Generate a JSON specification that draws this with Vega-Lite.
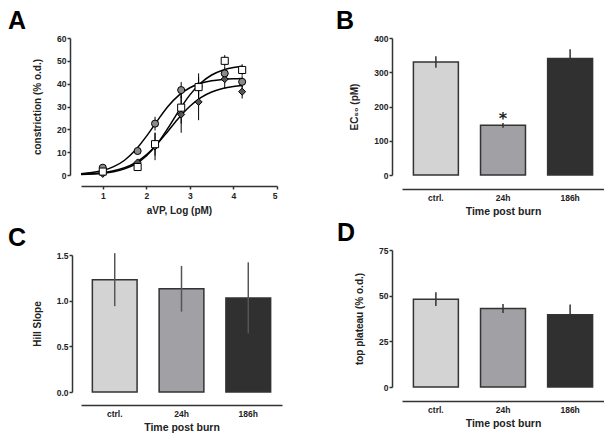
{
  "$schema": "https://vega.github.io/schema/vega-lite/v6.json",
  "background": "white",
  "padding": {"left": 8, "top": 9, "right": 0, "bottom": 0},
  "datasets": {
    "points": [
      {"series": "186h", "x": 1, "y": 0.5, "err": 0.5},
      {"series": "186h", "x": 1.8, "y": 5.5, "err": 1.5},
      {"series": "186h", "x": 2.2, "y": 12.5, "err": 6},
      {"series": "186h", "x": 2.8, "y": 26.5, "err": 8},
      {"series": "186h", "x": 3.2, "y": 32, "err": 8},
      {"series": "186h", "x": 3.8, "y": 42, "err": 4},
      {"series": "186h", "x": 4.2, "y": 36.5, "err": 3},
      {"series": "24h", "x": 1, "y": 3.2, "err": 1},
      {"series": "24h", "x": 1.8, "y": 10.5, "err": 1.5},
      {"series": "24h", "x": 2.2, "y": 22.5, "err": 3},
      {"series": "24h", "x": 2.8, "y": 37.2, "err": 3.5},
      {"series": "24h", "x": 3.2, "y": 38.8, "err": 4},
      {"series": "24h", "x": 3.8, "y": 44.5, "err": 3},
      {"series": "24h", "x": 4.2, "y": 40.8, "err": 2.5},
      {"series": "ctrl", "x": 1, "y": 1.5, "err": 1},
      {"series": "ctrl", "x": 1.8, "y": 3.5, "err": 1.5},
      {"series": "ctrl", "x": 2.2, "y": 13.5, "err": 5},
      {"series": "ctrl", "x": 2.8, "y": 29.5, "err": 7},
      {"series": "ctrl", "x": 3.2, "y": 38.5, "err": 6},
      {"series": "ctrl", "x": 3.8, "y": 50, "err": 2.5},
      {"series": "ctrl", "x": 4.2, "y": 46, "err": 2.5}
    ],
    "curves": [
      {"series": "24h", "x": 0.5, "y": 0.56},
      {"series": "24h", "x": 0.75, "y": 1.06},
      {"series": "24h", "x": 1.0, "y": 1.98},
      {"series": "24h", "x": 1.25, "y": 3.64},
      {"series": "24h", "x": 1.5, "y": 6.47},
      {"series": "24h", "x": 1.75, "y": 10.9},
      {"series": "24h", "x": 2.0, "y": 16.9},
      {"series": "24h", "x": 2.25, "y": 23.7},
      {"series": "24h", "x": 2.5, "y": 30.1},
      {"series": "24h", "x": 2.75, "y": 35.0},
      {"series": "24h", "x": 3.0, "y": 38.2},
      {"series": "24h", "x": 3.25, "y": 40.15},
      {"series": "24h", "x": 3.5, "y": 41.24},
      {"series": "24h", "x": 3.75, "y": 41.83},
      {"series": "24h", "x": 4.0, "y": 42.15},
      {"series": "24h", "x": 4.2, "y": 42.29},
      {"series": "ctrl", "x": 0.5, "y": 0.23},
      {"series": "ctrl", "x": 0.75, "y": 0.42},
      {"series": "ctrl", "x": 1.0, "y": 0.79},
      {"series": "ctrl", "x": 1.25, "y": 1.47},
      {"series": "ctrl", "x": 1.5, "y": 2.69},
      {"series": "ctrl", "x": 1.75, "y": 4.82},
      {"series": "ctrl", "x": 2.0, "y": 8.35},
      {"series": "ctrl", "x": 2.25, "y": 13.65},
      {"series": "ctrl", "x": 2.5, "y": 20.6},
      {"series": "ctrl", "x": 2.75, "y": 28.2},
      {"series": "ctrl", "x": 3.0, "y": 35.1},
      {"series": "ctrl", "x": 3.25, "y": 40.3},
      {"series": "ctrl", "x": 3.5, "y": 43.8},
      {"series": "ctrl", "x": 3.75, "y": 45.9},
      {"series": "ctrl", "x": 4.0, "y": 47.07},
      {"series": "ctrl", "x": 4.2, "y": 47.63},
      {"series": "186h", "x": 0.5, "y": 0.32},
      {"series": "186h", "x": 0.75, "y": 0.58},
      {"series": "186h", "x": 1.0, "y": 1.03},
      {"series": "186h", "x": 1.25, "y": 1.83},
      {"series": "186h", "x": 1.5, "y": 3.2},
      {"series": "186h", "x": 1.75, "y": 5.43},
      {"series": "186h", "x": 2.0, "y": 8.86},
      {"series": "186h", "x": 2.25, "y": 13.6},
      {"series": "186h", "x": 2.5, "y": 19.3},
      {"series": "186h", "x": 2.75, "y": 25.1},
      {"series": "186h", "x": 3.0, "y": 30.1},
      {"series": "186h", "x": 3.25, "y": 33.9},
      {"series": "186h", "x": 3.5, "y": 36.36},
      {"series": "186h", "x": 3.75, "y": 37.9},
      {"series": "186h", "x": 4.0, "y": 38.81},
      {"series": "186h", "x": 4.2, "y": 39.25}
    ],
    "ec50": [
      {"group": "ctrl.", "value": 330, "err": 17, "sig": ""},
      {"group": "24h", "value": 145, "err": 7, "sig": "*"},
      {"group": "186h", "value": 340, "err": 27, "sig": ""}
    ],
    "hill": [
      {"group": "ctrl.", "value": 1.23, "err": 0.29},
      {"group": "24h", "value": 1.13, "err": 0.25},
      {"group": "186h", "value": 1.03, "err": 0.39}
    ],
    "top": [
      {"group": "ctrl.", "value": 48.1, "err": 3.8},
      {"group": "24h", "value": 43, "err": 2.5},
      {"group": "186h", "value": 39.5, "err": 5.6}
    ]
  },
  "spacing": 54,
  "hconcat": [
    {
      "bounds": "flush",
      "spacing": 80,
      "vconcat": [
        {
          "width": 196,
          "height": 137,
          "title": {"text": "A", "anchor": "start", "frame": "group", "dx": -73, "offset": 0},
          "layer": [
            {
              "data": {"name": "curves"},
              "mark": {"type": "line", "color": "black", "strokeWidth": 1.5, "interpolate": "monotone"},
              "encoding": {
                "x": {"field": "x", "type": "quantitative", "title": "aVP, Log (pM)", "scale": {"domain": [0.5, 5], "nice": false},
                  "axis": {"values": [1, 2, 3, 4, 5], "offset": 11, "labelPadding": 2.5, "titlePadding": 5}},
                "y": {"field": "y", "type": "quantitative", "title": "constriction (% o.d.)", "scale": {"domain": [0, 60], "nice": false},
                  "axis": {"values": [0, 10, 20, 30, 40, 50, 60], "offset": 11, "labelOverlap": false}},
                "detail": {"field": "series"}
              }
            },
            {
              "data": {"name": "points"},
              "mark": {"type": "errorbar", "color": "black", "thickness": 1},
              "encoding": {
                "x": {"field": "x", "type": "quantitative", "title": "aVP, Log (pM)",
                  "axis": {"values": [1, 2, 3, 4, 5], "offset": 11, "labelPadding": 2.5, "titlePadding": 5}},
                "y": {"field": "y", "type": "quantitative", "title": "constriction (% o.d.)",
                  "axis": {"values": [0, 10, 20, 30, 40, 50, 60], "offset": 11, "labelOverlap": false}},
                "yError": {"field": "err"}
              }
            },
            {
              "data": {"name": "points"},
              "mark": {"type": "point", "filled": true, "stroke": "black", "strokeWidth": 1, "size": 50, "opacity": 1},
              "encoding": {
                "x": {"field": "x", "type": "quantitative", "title": "aVP, Log (pM)",
                  "axis": {"values": [1, 2, 3, 4, 5], "offset": 11, "labelPadding": 2.5, "titlePadding": 5}},
                "y": {"field": "y", "type": "quantitative", "title": "constriction (% o.d.)",
                  "axis": {"values": [0, 10, 20, 30, 40, 50, 60], "offset": 11, "labelOverlap": false}},
                "shape": {"field": "series", "scale": {"domain": ["ctrl", "24h", "186h"], "range": ["square", "circle", "diamond"]}, "legend": null},
                "fill": {"field": "series", "scale": {"domain": ["ctrl", "24h", "186h"], "range": ["#ffffff", "#8a8a8a", "#555555"]}, "legend": null}
              }
            }
          ]
        },
        {
          "width": 201,
          "height": 137,
          "title": {"text": "C", "anchor": "start", "frame": "group", "dx": -73, "offset": 0},
          "data": {"name": "hill"},
          "layer": [
            {
              "mark": {"type": "bar", "stroke": "#333333", "strokeWidth": 1.5},
              "encoding": {
                "x": {"field": "group", "type": "nominal", "sort": null, "title": "Time post burn", "scale": {"domain": ["ctrl.", "24h", "186h"], "paddingInner": 0.33, "paddingOuter": 0.17},
                  "axis": {"ticks": false, "tickSize": 0, "labelAngle": 0, "labelPadding": 4, "offset": 13, "titleFontSize": 10.5, "titlePadding": 5}},
                "y": {"field": "value", "type": "quantitative", "title": "Hill Slope", "scale": {"domain": [0, 1.5], "nice": false},
                  "axis": {"values": [0, 0.5, 1, 1.5], "format": ".1f", "offset": 9, "labelOverlap": false}},
                "color": {"field": "group", "scale": {"domain": ["ctrl.", "24h", "186h"], "range": ["#d3d3d3", "#a1a1a5", "#303030"]}, "legend": null}
              }
            },
            {
              "mark": {"type": "errorbar", "color": "#555555", "thickness": 1.5},
              "encoding": {
                "x": {"field": "group", "type": "nominal", "sort": null, "title": "Time post burn",
                  "axis": {"ticks": false, "tickSize": 0, "labelAngle": 0, "labelPadding": 4, "offset": 13, "titleFontSize": 10.5, "titlePadding": 5}},
                "y": {"field": "value", "type": "quantitative", "title": "Hill Slope",
                  "axis": {"values": [0, 0.5, 1, 1.5], "format": ".1f", "offset": 9, "labelOverlap": false}},
                "yError": {"field": "err"}
              }
            }
          ]
        }
      ]
    },
    {
      "bounds": "flush",
      "spacing": 75,
      "vconcat": [
        {
          "width": 202,
          "height": 137,
          "title": {"text": "B", "anchor": "start", "frame": "group", "dx": -66, "offset": 0},
          "data": {"name": "ec50"},
          "layer": [
            {
              "mark": {"type": "bar", "stroke": "#333333", "strokeWidth": 1.5},
              "encoding": {
                "x": {"field": "group", "type": "nominal", "sort": null, "title": "Time post burn", "scale": {"domain": ["ctrl.", "24h", "186h"], "paddingInner": 0.33, "paddingOuter": 0.17},
                  "axis": {"ticks": false, "tickSize": 0, "labelAngle": 0, "labelPadding": 4, "offset": 14, "titleFontSize": 10.5, "titlePadding": 5}},
                "y": {"field": "value", "type": "quantitative", "title": "EC₅₀ (pM)", "scale": {"domain": [0, 400], "nice": false},
                  "axis": {"values": [0, 100, 200, 300, 400], "offset": 10, "labelOverlap": false}},
                "color": {"field": "group", "scale": {"domain": ["ctrl.", "24h", "186h"], "range": ["#d3d3d3", "#a1a1a5", "#303030"]}, "legend": null}
              }
            },
            {
              "mark": {"type": "errorbar", "color": "#333333", "thickness": 1.5},
              "encoding": {
                "x": {"field": "group", "type": "nominal", "sort": null, "title": "Time post burn",
                  "axis": {"ticks": false, "tickSize": 0, "labelAngle": 0, "labelPadding": 4, "offset": 14, "titleFontSize": 10.5, "titlePadding": 5}},
                "y": {"field": "value", "type": "quantitative", "title": "EC₅₀ (pM)",
                  "axis": {"values": [0, 100, 200, 300, 400], "offset": 10, "labelOverlap": false}},
                "yError": {"field": "err"}
              }
            },
            {
              "transform": [{"filter": "datum.sig == '*'"}],
              "mark": {"type": "text", "font": "DejaVu Sans", "fontWeight": "bold", "fontSize": 16, "baseline": "alphabetic", "dy": -1, "color": "#222222"},
              "encoding": {
                "x": {"field": "group", "type": "nominal", "sort": null, "title": "Time post burn",
                  "axis": {"ticks": false, "tickSize": 0, "labelAngle": 0, "labelPadding": 4, "offset": 14, "titleFontSize": 10.5, "titlePadding": 5}},
                "y": {"field": "value", "type": "quantitative", "title": "EC₅₀ (pM)",
                  "axis": {"values": [0, 100, 200, 300, 400], "offset": 10, "labelOverlap": false}},
                "text": {"field": "sig"}
              }
            }
          ]
        },
        {
          "width": 202,
          "height": 137,
          "title": {"text": "D", "anchor": "start", "frame": "group", "dx": -65, "offset": 0},
          "data": {"name": "top"},
          "layer": [
            {
              "mark": {"type": "bar", "stroke": "#333333", "strokeWidth": 1.5},
              "encoding": {
                "x": {"field": "group", "type": "nominal", "sort": null, "title": "Time post burn", "scale": {"domain": ["ctrl.", "24h", "186h"], "paddingInner": 0.33, "paddingOuter": 0.17},
                  "axis": {"ticks": false, "tickSize": 0, "labelAngle": 0, "labelPadding": 4, "offset": 14, "titleFontSize": 10.5, "titlePadding": 5}},
                "y": {"field": "value", "type": "quantitative", "title": "top plateau (% o.d.)", "scale": {"domain": [0, 75], "nice": false},
                  "axis": {"values": [0, 25, 50, 75], "offset": 10, "labelOverlap": false}},
                "color": {"field": "group", "scale": {"domain": ["ctrl.", "24h", "186h"], "range": ["#d3d3d3", "#a1a1a5", "#303030"]}, "legend": null}
              }
            },
            {
              "mark": {"type": "errorbar", "color": "#333333", "thickness": 1.5},
              "encoding": {
                "x": {"field": "group", "type": "nominal", "sort": null, "title": "Time post burn",
                  "axis": {"ticks": false, "tickSize": 0, "labelAngle": 0, "labelPadding": 4, "offset": 14, "titleFontSize": 10.5, "titlePadding": 5}},
                "y": {"field": "value", "type": "quantitative", "title": "top plateau (% o.d.)",
                  "axis": {"values": [0, 25, 50, 75], "offset": 10, "labelOverlap": false}},
                "yError": {"field": "err"}
              }
            }
          ]
        }
      ]
    }
  ],
  "config": {
    "view": {"stroke": null},
    "axis": {
      "grid": false,
      "domainColor": "#333333",
      "domainWidth": 1.5,
      "tickColor": "#333333",
      "tickWidth": 1.5,
      "tickSize": 3,
      "labelFont": "Liberation Sans",
      "labelFontWeight": "bold",
      "labelFontSize": 8.5,
      "labelColor": "#222222",
      "labelPadding": 1,
      "titleFont": "Liberation Sans",
      "titleFontWeight": "bold",
      "titleFontSize": 10,
      "titleColor": "#222222",
      "titlePadding": 14
    },
    "title": {
      "font": "Liberation Sans",
      "fontWeight": "bold",
      "fontSize": 25,
      "color": "#000000",
      "baseline": "alphabetic"
    }
  }
}
